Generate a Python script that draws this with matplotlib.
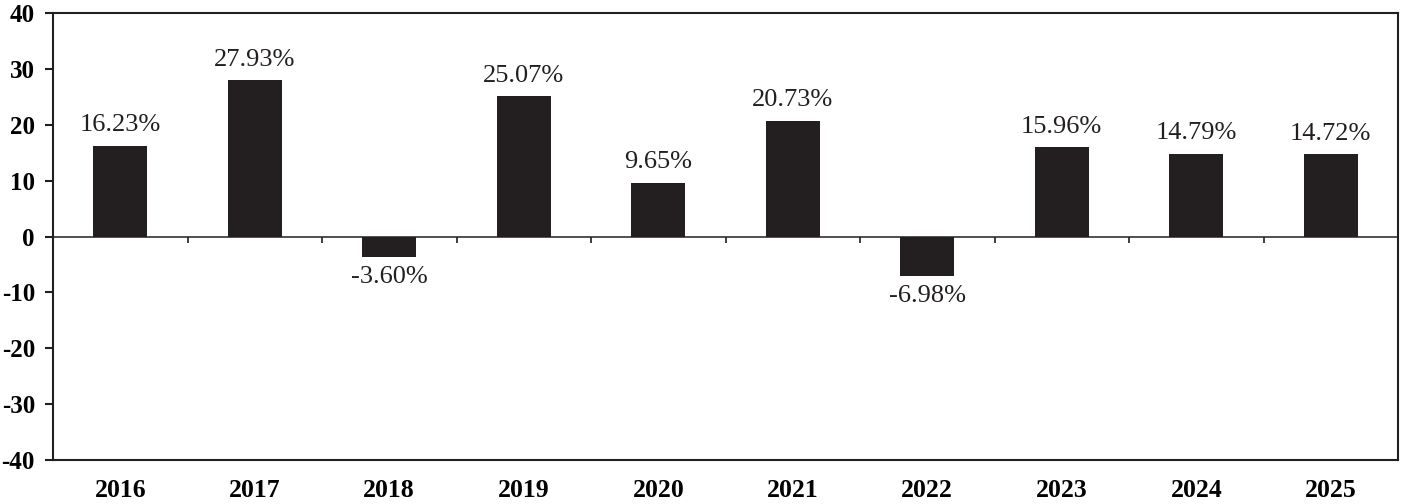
import matplotlib

matplotlib.use("Agg")
import matplotlib.pyplot as plt
import numpy as np

years = ["2016", "2017", "2018", "2019", "2020", "2021", "2022", "2023", "2024", "2025"]
returns = [16.23, 27.93, -3.60, 25.07, 9.65, 20.73, -6.98, 15.96, 14.79, 14.72]
y_ticks = [-40, -30, -20, -10, 0, 10, 20, 30, 40]

BAR_COLOR = "#231f20"
LINE_COLOR = "#231f20"

plt.rcParams["font.family"] = ["Liberation Serif", "DejaVu Serif"]

figure = plt.figure(figsize=(14.01, 5.04), dpi=100)
axis = figure.add_axes([53 / 1401, 1 - 460 / 504, (1398 - 53) / 1401, (460 - 13) / 504])

positions = np.arange(len(years))
axis.bar(positions, returns, width=0.4, color=BAR_COLOR, zorder=3)

for x, value in zip(positions, returns):
    offset = 7 if value >= 0 else -7
    axis.annotate(
        f"{value:.2f}%",
        xy=(x, value),
        xytext=(0, offset),
        textcoords="offset points",
        ha="center",
        va="bottom" if value >= 0 else "top",
        fontsize=19,
        color=LINE_COLOR,
    )

axis.set_xlim(-0.5, len(years) - 0.5)
axis.set_ylim(-40, 40)

# zero line acts as the category axis, with boundary ticks hanging down
axis.spines["bottom"].set_position(("data", 0))
axis.spines["bottom"].set_linewidth(1.1)
axis.set_xticks(positions[:-1] + 0.5)
axis.set_xticklabels([])
axis.tick_params(axis="x", direction="out", length=4, width=1.2, color=LINE_COLOR)

for name in ("left", "top", "right"):
    axis.spines[name].set_linewidth(1.5)
    axis.spines[name].set_color(LINE_COLOR)
axis.spines["bottom"].set_color(LINE_COLOR)

axis.set_yticks(y_ticks)
axis.set_yticklabels([str(v) for v in y_ticks], fontweight="bold", fontsize=18)
axis.tick_params(axis="y", direction="out", length=6, width=1.5, pad=7, color=LINE_COLOR)

frame_bottom = axis.secondary_xaxis(0.0)
frame_bottom.set_xticks(positions)
frame_bottom.set_xticklabels(years, fontweight="bold", fontsize=18.5)
frame_bottom.tick_params(length=0, pad=14)
frame_bottom.spines["bottom"].set_linewidth(1.5)
frame_bottom.spines["bottom"].set_color(LINE_COLOR)

figure.savefig("out.png", dpi=100)
